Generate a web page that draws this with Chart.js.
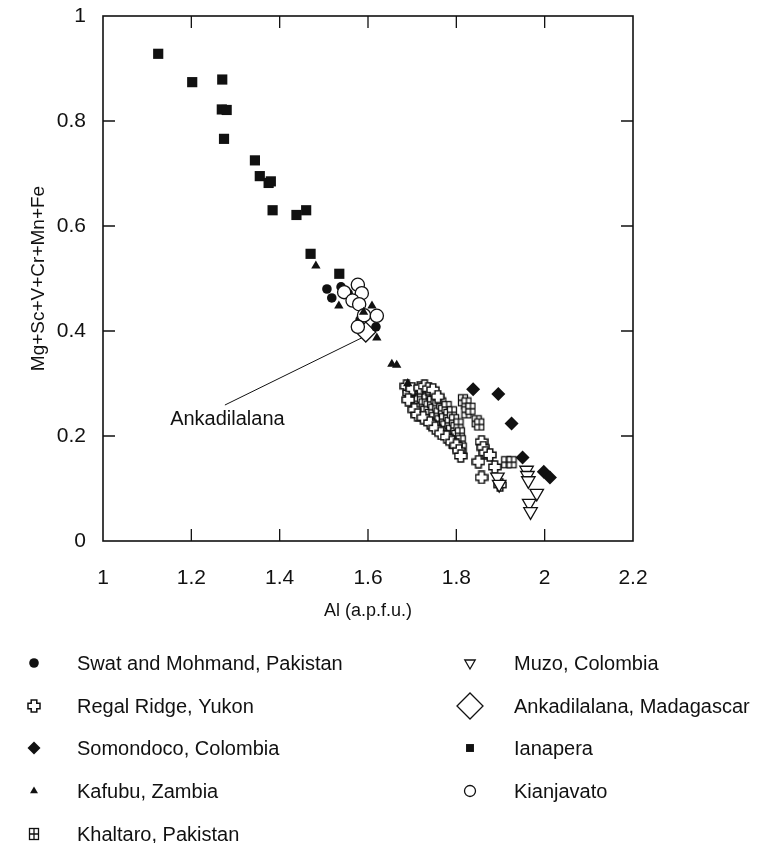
<!DOCTYPE html>
<html>
<head>
<meta charset="utf-8">
<script src="https://cdn.jsdelivr.net/npm/chart.js@4"></script>
<style>
  html, body { margin: 0; padding: 0; background: #fff; }
  canvas { display: block; }
</style>
</head>
<body>
<canvas id="chart" width="760" height="843"></canvas>
<script>
// x = Al (a.p.f.u.), y = Mg+Sc+V+Cr+Mn+Fe
const swatPoints = [
  [1.507, 0.480], [1.518, 0.463], [1.539, 0.484], [1.555, 0.472],
  [1.566, 0.461], [1.575, 0.450], [1.582, 0.421], [1.618, 0.408],
];
const regalPoints = [
  [1.687, 0.295], [1.693, 0.282], [1.700, 0.290], [1.718, 0.292], [1.728, 0.295],
  [1.737, 0.290], [1.747, 0.288], [1.758, 0.275], [1.691, 0.269], [1.705, 0.250],
  [1.712, 0.240], [1.725, 0.235], [1.740, 0.225], [1.752, 0.215], [1.765, 0.205],
  [1.778, 0.198], [1.790, 0.188], [1.800, 0.182], [1.806, 0.172], [1.810, 0.162],
  [1.857, 0.189], [1.861, 0.178], [1.866, 0.168], [1.876, 0.164], [1.850, 0.151],
  [1.887, 0.141], [1.857, 0.121], [1.899, 0.107],
];
const somondocoPoints = [
  [1.838, 0.289], [1.895, 0.280], [1.925, 0.224], [1.950, 0.159], [1.998, 0.132], [2.012, 0.121],
];
const kafubuPoints = [
  [1.482, 0.524], [1.534, 0.448], [1.590, 0.436], [1.609, 0.448],
  [1.620, 0.387], [1.654, 0.337], [1.665, 0.335], [1.690, 0.300],
];
const khaltaroPoints = [
  [1.695, 0.285], [1.700, 0.272], [1.705, 0.262], [1.712, 0.280], [1.715, 0.266],
  [1.718, 0.252], [1.722, 0.275], [1.726, 0.260], [1.730, 0.246], [1.733, 0.270],
  [1.737, 0.256], [1.740, 0.240], [1.742, 0.282], [1.745, 0.265], [1.748, 0.250],
  [1.750, 0.234], [1.753, 0.272], [1.757, 0.258], [1.760, 0.243], [1.762, 0.228],
  [1.766, 0.262], [1.770, 0.248], [1.772, 0.232], [1.775, 0.218], [1.778, 0.255],
  [1.782, 0.240], [1.785, 0.225], [1.788, 0.210], [1.790, 0.245], [1.795, 0.230],
  [1.798, 0.215], [1.800, 0.200], [1.805, 0.222], [1.808, 0.205], [1.810, 0.190],
  [1.812, 0.176], [1.815, 0.268], [1.823, 0.262], [1.823, 0.245], [1.832, 0.252],
  [1.846, 0.228], [1.852, 0.222], [1.913, 0.150], [1.925, 0.150],
];
const muzoPoints = [
  [1.959, 0.135], [1.961, 0.125], [1.963, 0.115], [1.982, 0.091],
  [1.965, 0.072], [1.968, 0.056], [1.893, 0.122], [1.897, 0.108],
];
const ankadilalanaPoints = [[1.595, 0.398]];
const ianaperaPoints = [
  [1.125, 0.928], [1.202, 0.874], [1.270, 0.879], [1.269, 0.822], [1.280, 0.821],
  [1.274, 0.766], [1.344, 0.725], [1.355, 0.695], [1.375, 0.682], [1.380, 0.685],
  [1.384, 0.630], [1.438, 0.621], [1.460, 0.630], [1.470, 0.547], [1.535, 0.509],
];
const kianjavatoPoints = [
  [1.546, 0.474], [1.577, 0.488], [1.586, 0.472], [1.565, 0.458],
  [1.580, 0.451], [1.591, 0.430], [1.620, 0.429], [1.577, 0.408],
];

// annotation: label anchor, line start and line end in data units
const noteText = "Ankadilalana";
const noteLabelAt = [1.152, 0.221];
const noteLineFrom = [1.276, 0.259];
const noteLineTo = [1.586, 0.387];

const xTicks = [1, 1.2, 1.4, 1.6, 1.8, 2, 2.2];
const yTicks = [0, 0.2, 0.4, 0.6, 0.8, 1];

const FONT = '"Liberation Sans", Arial, Helvetica, sans-serif';
const INK = "#111";

function toXY(points) {
  return points.map(([x, y]) => ({ x, y }));
}

function makeCross(size) {
  const c = document.createElement("canvas");
  c.width = size;
  c.height = size;
  const g = c.getContext("2d");
  const m = size / 2;
  const a = size * 0.2;
  const e = m - 1;
  g.beginPath();
  g.moveTo(m - a, m - e);
  g.lineTo(m + a, m - e);
  g.lineTo(m + a, m - a);
  g.lineTo(m + e, m - a);
  g.lineTo(m + e, m + a);
  g.lineTo(m + a, m + a);
  g.lineTo(m + a, m + e);
  g.lineTo(m - a, m + e);
  g.lineTo(m - a, m + a);
  g.lineTo(m - e, m + a);
  g.lineTo(m - e, m - a);
  g.lineTo(m - a, m - a);
  g.closePath();
  g.fillStyle = "#fff";
  g.fill();
  g.lineWidth = 1.5;
  g.strokeStyle = INK;
  g.stroke();
  return c;
}

function makeGridBox(w, h) {
  const c = document.createElement("canvas");
  c.width = w + 2;
  c.height = h + 2;
  const g = c.getContext("2d");
  g.fillStyle = "#fff";
  g.fillRect(1, 1, w, h);
  g.strokeStyle = INK;
  g.lineWidth = 1.3;
  g.strokeRect(1.5, 1.5, w - 1, h - 1);
  g.beginPath();
  g.moveTo(1 + w / 2, 1.5);
  g.lineTo(1 + w / 2, h + 0.5);
  g.moveTo(1.5, 1 + h / 2);
  g.lineTo(w + 0.5, 1 + h / 2);
  g.stroke();
  return c;
}

const crossImg = makeCross(14);
const boxImg = makeGridBox(10, 12);

const datasets = [
  {
    label: "Kafubu, Zambia", data: toXY(kafubuPoints), order: 1,
    pointStyle: "triangle", pointRadius: 5.4, backgroundColor: INK, borderColor: INK, borderWidth: 0,
    legendRadius: 4.6,
  },
  {
    label: "Kianjavato", data: toXY(kianjavatoPoints), order: 2,
    pointStyle: "circle", pointRadius: 6.6, backgroundColor: "#fff", borderColor: INK, borderWidth: 1.3,
    legendRadius: 5.5,
  },
  {
    label: "Swat and Mohmand, Pakistan", data: toXY(swatPoints), order: 3,
    pointStyle: "circle", pointRadius: 4.8, backgroundColor: INK, borderColor: INK, borderWidth: 0,
    legendRadius: 4.8,
  },
  {
    label: "Ankadilalana, Madagascar", data: toXY(ankadilalanaPoints), order: 4,
    pointStyle: "rectRot", pointRadius: 10, backgroundColor: "#fff", borderColor: INK, borderWidth: 1.3,
    legendRadius: 13,
  },
  {
    label: "Ianapera", data: toXY(ianaperaPoints), order: 5,
    pointStyle: "rect", pointRadius: 7.2, backgroundColor: INK, borderColor: INK, borderWidth: 0,
    legendRadius: 5.6,
  },
  {
    label: "Somondoco, Colombia", data: toXY(somondocoPoints), order: 6,
    pointStyle: "rectRot", pointRadius: 7, backgroundColor: INK, borderColor: INK, borderWidth: 0,
    legendRadius: 6.5,
  },
  {
    label: "Muzo, Colombia", data: toXY(muzoPoints), order: 7,
    pointStyle: "triangle", pointRotation: 180, pointRadius: 7.8, backgroundColor: "#fff", borderColor: INK, borderWidth: 1.3,
    legendRadius: 6,
  },
  {
    label: "Regal Ridge, Yukon", data: toXY(regalPoints), order: 8,
    pointStyle: crossImg, pointRadius: 7, backgroundColor: "#fff", borderColor: INK,
    legendRadius: 7,
  },
  {
    label: "Khaltaro, Pakistan", data: toXY(khaltaroPoints), order: 9,
    pointStyle: boxImg, pointRadius: 7, backgroundColor: "#fff", borderColor: INK,
    legendRadius: 7,
  },
];

// legend layout: [label, column, row]
const legendLayout = [
  ["Swat and Mohmand, Pakistan", 0, 0],
  ["Regal Ridge, Yukon", 0, 1],
  ["Somondoco, Colombia", 0, 2],
  ["Kafubu, Zambia", 0, 3],
  ["Khaltaro, Pakistan", 0, 4],
  ["Muzo, Colombia", 1, 0],
  ["Ankadilalana, Madagascar", 1, 1],
  ["Ianapera", 1, 2],
  ["Kianjavato", 1, 3],
];
const legendMarkerX = [34, 470];
const legendTextX = [77, 514];
const legendRowY = [663, 706, 748, 791, 834];

const frameTicks = {
  id: "frameTicks",
  beforeDatasetsDraw(chart) {
    const { ctx, chartArea: a, scales } = chart;
    const len = 12;
    ctx.save();
    ctx.strokeStyle = INK;
    ctx.lineWidth = 1.6;
    ctx.strokeRect(a.left, a.top, a.right - a.left, a.bottom - a.top);
    ctx.lineWidth = 1.3;
    ctx.beginPath();
    xTicks.slice(1, -1).forEach((v) => {
      const px = scales.x.getPixelForValue(v);
      ctx.moveTo(px, a.bottom);
      ctx.lineTo(px, a.bottom - len);
      ctx.moveTo(px, a.top);
      ctx.lineTo(px, a.top + len);
    });
    yTicks.slice(1, -1).forEach((v) => {
      const py = scales.y.getPixelForValue(v);
      ctx.moveTo(a.left, py);
      ctx.lineTo(a.left + len, py);
      ctx.moveTo(a.right, py);
      ctx.lineTo(a.right - len, py);
    });
    ctx.stroke();
    ctx.restore();
  },
};

const note = {
  id: "note",
  beforeDatasetsDraw(chart) {
    const { ctx, scales } = chart;
    const x = scales.x, y = scales.y;
    ctx.save();
    ctx.strokeStyle = INK;
    ctx.lineWidth = 1;
    ctx.beginPath();
    ctx.moveTo(x.getPixelForValue(noteLineFrom[0]), y.getPixelForValue(noteLineFrom[1]));
    ctx.lineTo(x.getPixelForValue(noteLineTo[0]), y.getPixelForValue(noteLineTo[1]));
    ctx.stroke();
    ctx.fillStyle = INK;
    ctx.font = `20px ${FONT}`;
    ctx.textAlign = "left";
    ctx.textBaseline = "alphabetic";
    ctx.fillText(noteText, x.getPixelForValue(noteLabelAt[0]), y.getPixelForValue(noteLabelAt[1]));
    ctx.restore();
  },
};

const sideLegend = {
  id: "sideLegend",
  afterDraw(chart) {
    const { ctx } = chart;
    ctx.save();
    ctx.font = `20px ${FONT}`;
    ctx.fillStyle = INK;
    ctx.textAlign = "left";
    ctx.textBaseline = "alphabetic";
    legendLayout.forEach(([label, col, row]) => {
      const ds = chart.data.datasets.find((d) => d.label === label);
      const cy = legendRowY[row];
      ctx.save();
      ctx.fillStyle = ds.backgroundColor;
      ctx.strokeStyle = ds.borderColor;
      ctx.lineWidth = ds.borderWidth || 0;
      Chart.helpers.drawPoint(ctx, {
        pointStyle: ds.pointStyle,
        rotation: ds.pointRotation || 0,
        radius: ds.legendRadius,
        borderWidth: ds.borderWidth || 0,
      }, legendMarkerX[col], cy);
      ctx.restore();
      ctx.fillText(label, legendTextX[col], cy + 7);
    });
    ctx.restore();
  },
};

const tickLabel = (v) => String(Math.round(v * 10) / 10);

new Chart(document.getElementById("chart"), {
  type: "scatter",
  data: { datasets },
  options: {
    responsive: false,
    animation: false,
    events: [],
    layout: { padding: { left: 0, top: 16, right: 127, bottom: 221 } },
    plugins: {
      legend: { display: false },
      tooltip: { enabled: false },
    },
    scales: {
      x: {
        type: "linear",
        min: 1,
        max: 2.2,
        afterBuildTicks: (scale) => { scale.ticks = xTicks.map((v) => ({ value: v })); },
        afterFit: (scale) => {
          scale.height = 81;
          scale.paddingLeft = 0;
          scale.paddingRight = 0;
        },
        grid: { display: false, drawTicks: false, tickLength: 0 },
        border: { display: false },
        ticks: { color: INK, padding: 25, callback: tickLabel, font: { family: FONT, size: 21 } },
        title: {
          display: true,
          text: "Al (a.p.f.u.)",
          color: INK,
          padding: { top: 0, bottom: 0 },
          font: { family: FONT, size: 18 },
        },
      },
      y: {
        type: "linear",
        min: 0,
        max: 1,
        afterBuildTicks: (scale) => { scale.ticks = yTicks.map((v) => ({ value: v })); },
        afterFit: (scale) => {
          scale.width = 103;
          scale.paddingTop = 0;
          scale.paddingBottom = 0;
        },
        grid: { display: false, drawTicks: false, tickLength: 0 },
        border: { display: false },
        ticks: { color: INK, padding: 17, callback: tickLabel, font: { family: FONT, size: 21 } },
        title: {
          display: true,
          text: "Mg+Sc+V+Cr+Mn+Fe",
          color: INK,
          padding: { top: 27, bottom: 0 },
          font: { family: FONT, size: 19 },
        },
      },
    },
  },
  plugins: [frameTicks, note, sideLegend],
});
</script>
</body>
</html>
